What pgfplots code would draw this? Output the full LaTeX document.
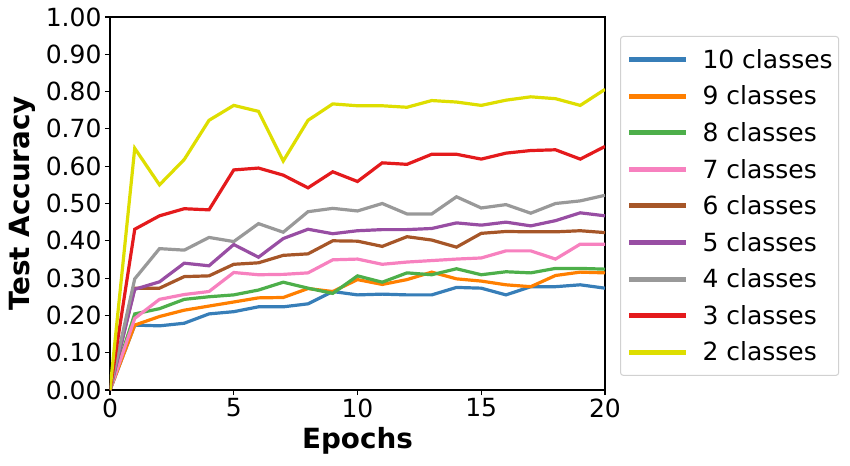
\documentclass[border=0pt]{standalone}
\usepackage{pgfplots}
\pgfplotsset{compat=1.18}
\usepackage{fontspec}
\setmainfont{DejaVu Sans}
\definecolor{c10}{HTML}{377EB8}
\definecolor{c9}{HTML}{FF7F00}
\definecolor{c8}{HTML}{4DAF4A}
\definecolor{c7}{HTML}{F781BF}
\definecolor{c6}{HTML}{A65628}
\definecolor{c5}{HTML}{984EA3}
\definecolor{c4}{HTML}{999999}
\definecolor{c3}{HTML}{E41A1C}
\definecolor{c2}{HTML}{DEDE00}
\begin{document}
\begin{tikzpicture}
\begin{axis}[
  scale only axis,
  width=495bp, height=373bp,
  xmin=0, xmax=20, ymin=0, ymax=1,
  xtick={0,5,10,15,20},
  ytick={0,0.1,...,1.0},
  /pgf/number format/assume math mode=true,
  yticklabel style={/pgf/number format/fixed,/pgf/number format/fixed zerofill,/pgf/number format/precision=2},
  xticklabel style={/pgf/number format/fixed},
  tick label style={font=\fontsize{25bp}{30bp}\selectfont},
  tick align=outside,
  major tick length=5bp,
  xtick pos=bottom, ytick pos=left,
  axis line style={line width=1.1bp},
  every tick/.style={black,line width=1.1bp},
  xlabel={\bfseries Epochs},
  ylabel={\bfseries Test Accuracy},
  label style={font=\fontsize{27.8bp}{32bp}\selectfont},
  xlabel style={yshift=-3bp},
  ylabel style={yshift=3bp},
  legend cell align=left,
  legend style={at={([xshift=15bp]axis description cs:1,0.4935)}, anchor=west,
    font=\fontsize{25bp}{30bp}\selectfont, draw=black!18, rounded corners=3bp,
    line width=1bp, inner xsep=6bp, inner ysep=11bp, row sep=12.1bp, column sep=14bp,
    nodes={inner xsep=0bp}},
  legend image code/.code={\draw[#1,line width=5bp] (0bp,0bp) -- (57bp,0bp);},
  every axis plot/.append style={line width=3.2bp},
]
\addplot[c10] coordinates {(0,0)(1,0.174)(2,0.172)(3,0.179)(4,0.204)(5,0.210)(6,0.223)(7,0.223)(8,0.231)(9,0.264)(10,0.255)(11,0.257)(12,0.255)(13,0.255)(14,0.275)(15,0.273)(16,0.255)(17,0.277)(18,0.277)(19,0.282)(20,0.273)};
\addlegendentry{10 classes\hspace{1.5bp}}
\addplot[c9] coordinates {(0,0)(1,0.174)(2,0.197)(3,0.214)(4,0.225)(5,0.236)(6,0.247)(7,0.248)(8,0.272)(9,0.264)(10,0.296)(11,0.283)(12,0.296)(13,0.316)(14,0.298)(15,0.292)(16,0.282)(17,0.277)(18,0.307)(19,0.316)(20,0.314)};
\addlegendentry{9 classes}
\addplot[c8] coordinates {(0,0)(1,0.204)(2,0.218)(3,0.243)(4,0.250)(5,0.255)(6,0.268)(7,0.289)(8,0.273)(9,0.259)(10,0.306)(11,0.289)(12,0.314)(13,0.309)(14,0.325)(15,0.309)(16,0.317)(17,0.314)(18,0.326)(19,0.326)(20,0.324)};
\addlegendentry{8 classes}
\addplot[c7] coordinates {(0,0)(1,0.192)(2,0.243)(3,0.256)(4,0.264)(5,0.315)(6,0.309)(7,0.310)(8,0.314)(9,0.349)(10,0.351)(11,0.337)(12,0.343)(13,0.347)(14,0.351)(15,0.354)(16,0.373)(17,0.373)(18,0.351)(19,0.391)(20,0.391)};
\addlegendentry{7 classes}
\addplot[c6] coordinates {(0,0)(1,0.273)(2,0.273)(3,0.304)(4,0.306)(5,0.337)(6,0.341)(7,0.361)(8,0.365)(9,0.400)(10,0.399)(11,0.385)(12,0.411)(13,0.402)(14,0.383)(15,0.420)(16,0.425)(17,0.424)(18,0.424)(19,0.427)(20,0.422)};
\addlegendentry{6 classes}
\addplot[c5] coordinates {(0,0)(1,0.270)(2,0.290)(3,0.340)(4,0.333)(5,0.390)(6,0.356)(7,0.406)(8,0.431)(9,0.419)(10,0.427)(11,0.430)(12,0.430)(13,0.433)(14,0.448)(15,0.442)(16,0.450)(17,0.440)(18,0.454)(19,0.475)(20,0.467)};
\addlegendentry{5 classes}
\addplot[c4] coordinates {(0,0)(1,0.298)(2,0.379)(3,0.375)(4,0.409)(5,0.398)(6,0.446)(7,0.423)(8,0.478)(9,0.487)(10,0.480)(11,0.500)(12,0.472)(13,0.472)(14,0.518)(15,0.488)(16,0.497)(17,0.474)(18,0.500)(19,0.507)(20,0.522)};
\addlegendentry{4 classes}
\addplot[c3] coordinates {(0,0)(1,0.431)(2,0.467)(3,0.486)(4,0.483)(5,0.590)(6,0.595)(7,0.576)(8,0.542)(9,0.585)(10,0.559)(11,0.609)(12,0.605)(13,0.632)(14,0.632)(15,0.619)(16,0.635)(17,0.642)(18,0.644)(19,0.619)(20,0.653)};
\addlegendentry{3 classes}
\addplot[c2] coordinates {(0,0)(1,0.648)(2,0.550)(3,0.618)(4,0.723)(5,0.763)(6,0.747)(7,0.614)(8,0.723)(9,0.767)(10,0.762)(11,0.762)(12,0.758)(13,0.776)(14,0.772)(15,0.763)(16,0.777)(17,0.786)(18,0.781)(19,0.763)(20,0.806)};
\addlegendentry{2 classes}
\end{axis}
\pgfresetboundingbox
\useasboundingbox (-110bp,-76bp) rectangle (740bp,390bp);
\end{tikzpicture}
\end{document}
